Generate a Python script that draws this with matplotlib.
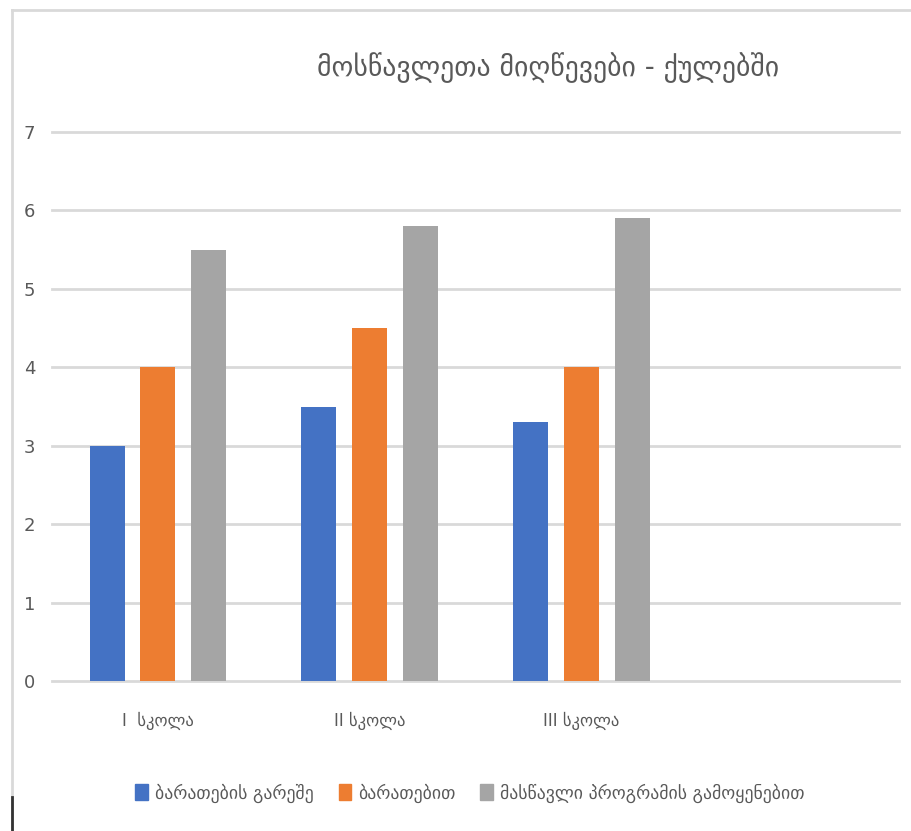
import numpy as np
import matplotlib
matplotlib.use('Agg')
import matplotlib.pyplot as plt
from matplotlib.lines import Line2D
from matplotlib.patches import Rectangle

plt.rcParams['font.family'] = ['DejaVu Sans']

# scores per school, the fourth slot is left empty on the axis
schools = ['I  სკოლა', 'II სკოლა', 'III სკოლა', '']
no_cards = [3.0, 3.5, 3.3]
with_cards = [4.0, 4.5, 4.0]
with_program = [5.5, 5.8, 5.9]

series_names = ['ბარათების გარეშე', 'ბარათებით', 'მასწავლი პროგრამის გამოყენებით']
colors = ['#4472C4', '#ED7D31', '#A5A5A5']
title = 'მოსწავლეთა მიღწევები - ქულებში'
yticks = list(range(0, 8))

fig = plt.figure(figsize=(9.12, 8.31), dpi=100)
ax = fig.add_axes([52 / 912, 150 / 831, 847 / 912, 549 / 831])

x = np.arange(len(no_cards))
w = 0.165
step = 0.24
for i, (vals, c, name) in enumerate(zip([no_cards, with_cards, with_program], colors, series_names)):
    ax.bar(x + (i - 1) * step, vals, width=w, color=c, label=name, zorder=3)

# horizontal grid, not clipped so the top and bottom lines keep full width
for t in yticks:
    ax.axhline(t, color='#d9d9d9', linewidth=2, zorder=0, clip_on=False)

ax.set_xlim(-0.5, len(schools) - 0.5)
ax.set_ylim(0, 7)
ax.set_yticks(yticks)
ax.set_xticks(range(len(schools)))
ax.set_xticklabels(schools, fontsize=12, color='#595959')
ax.tick_params(axis='y', labelsize=13, labelcolor='#595959', length=0, pad=12)
ax.tick_params(axis='x', length=0, pad=22)
for s in ax.spines.values():
    s.set_visible(False)

fig.text(548 / 912, 1 - 68 / 831, title, ha='center', va='center',
         fontsize=20, color='#595959')

handles = [Rectangle((0, 0), 1, 1, color=c) for c in colors]
fig.legend(handles, series_names, loc='center', bbox_to_anchor=(470 / 912, 1 - 793 / 831),
           ncol=3, frameon=False, fontsize=12.8, handlelength=0.7, handleheight=1.0,
           handletextpad=0.4, columnspacing=1.4, labelcolor='#595959')

# light frame around the chart and a short dark mark at the bottom left
fig.add_artist(Line2D([12 / 912, 12 / 912], [0, 1 - 10 / 831], color='#d9d9d9', lw=2))
fig.add_artist(Line2D([12 / 912, 1], [1 - 10 / 831, 1 - 10 / 831], color='#d9d9d9', lw=2))
fig.add_artist(Line2D([12 / 912, 12 / 912], [0, 1 - 797 / 831], color='#333333', lw=2))

fig.savefig('out.png', dpi=100)
